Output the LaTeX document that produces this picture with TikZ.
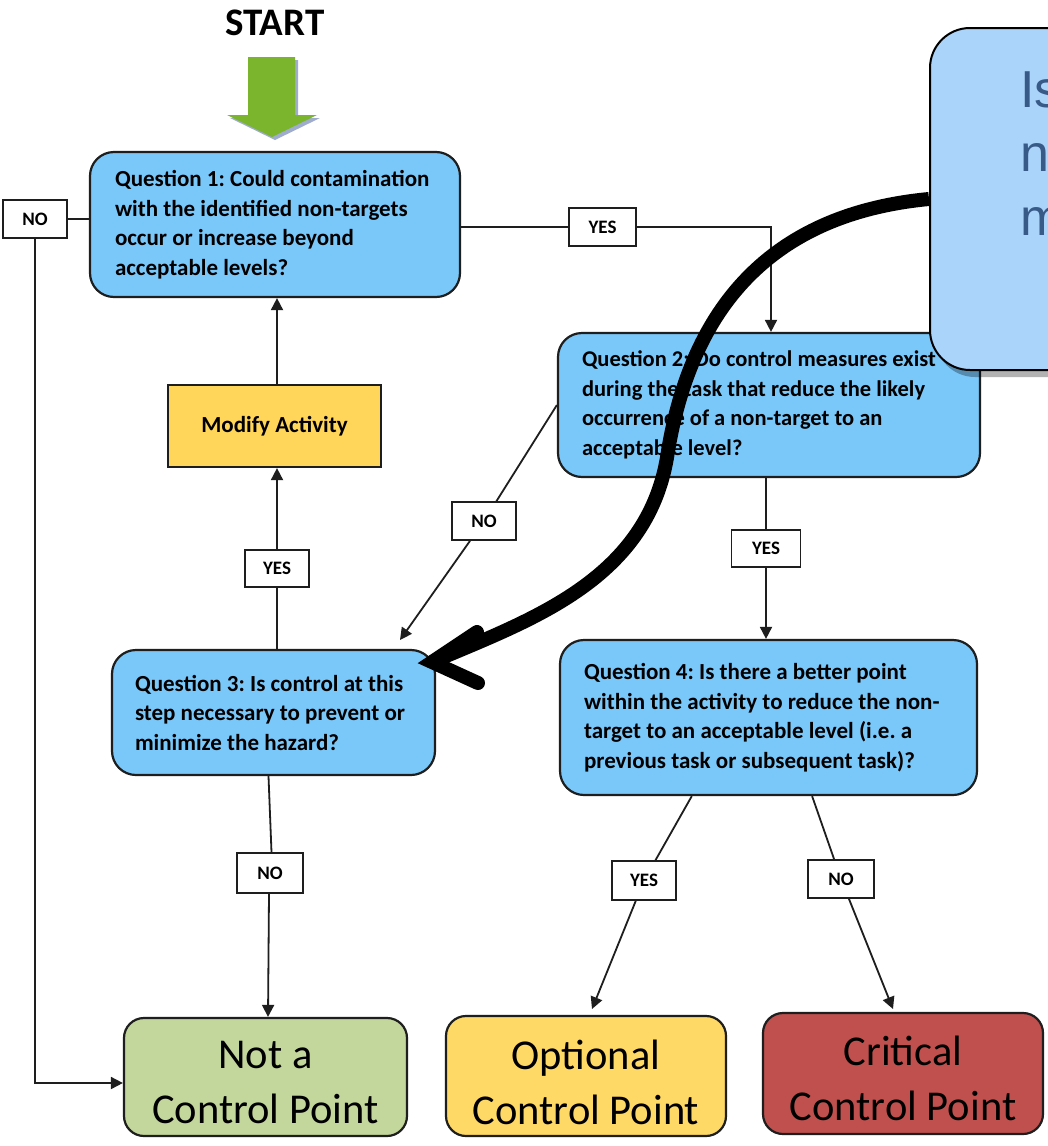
\documentclass[tikz,border=0pt]{standalone}
\usepackage{fontspec}
\setmainfont{Carlito}
\newfontfamily\calloutfont{Liberation Sans}
\usetikzlibrary{arrows.meta,shadows,calc}
\frenchspacing
% one unbreakable line of question text, with the font's own word spacing
\newcommand\qrow[1]{{\spaceskip=0pt\xspaceskip=0pt\mbox{#1}}}

\definecolor{qblue}{RGB}{122,200,250}
\definecolor{modfill}{RGB}{255,213,90}
\definecolor{notfill}{RGB}{195,214,155}
\definecolor{optfill}{RGB}{255,217,102}
\definecolor{critfill}{RGB}{192,80,77}
\definecolor{callfill}{RGB}{171,212,250}
\definecolor{calltext}{RGB}{56,90,135}
\definecolor{startgreen}{RGB}{122,181,45}
\definecolor{startshade}{RGB}{160,172,205}
\definecolor{edge}{RGB}{30,30,30}

\pgfdeclarelayer{front}
\pgfsetlayers{main,front}

\tikzset{
  question/.style={draw=edge, line width=2.2pt, fill=qblue, rounded corners=24pt,
    inner sep=0pt, align=left, font=\bfseries\fontsize{23}{29.5}\selectfont},
  outcome/.style={draw=edge, line width=2.2pt, rounded corners=20pt, inner sep=0pt},
  outcometext/.style={align=center, inner sep=0pt, font=\fontsize{42.5}{55}\selectfont},
  tag/.style={draw=edge, line width=1.6pt, fill=white, inner sep=0pt,
    minimum height=38pt, font=\bfseries\fontsize{19}{21}\selectfont},
  link/.style={draw=edge, line width=1.8pt},
  arr/.style={link, -{Triangle[length=12pt,width=12pt]}},
  bigcurve/.style={line width=14pt, draw=black}
}

\begin{document}
\frenchspacing
\begin{tikzpicture}[x=1pt,y=-1pt]
\useasboundingbox (0,0) rectangle (1048,1146);
\fill[white] (0,0) rectangle (1048,1146);

% start marker
\node[anchor=base, font=\bfseries\fontsize{39}{42}\selectfont] (start) at (275,35) {START};
\fill[startshade] (251,60) -- (298,60) -- (298,118) -- (320,118) -- (275,140) -- (230,118) -- (251,118) -- cycle;
\fill[startgreen] (248,57) -- (295,57) -- (295,115) -- (317,115) -- (272,137) -- (227,115) -- (248,115) -- cycle;

% questions
\node[question, minimum width=370pt, minimum height=145pt, text width=320pt] (q1) at (275,224.5)
  {\qrow{Question 1: Could contamination}\\\qrow{with the identified non-targets}\\
   \qrow{occur or increase beyond}\\\qrow{acceptable levels?}};
\node[question, minimum width=422pt, minimum height=144pt, text width=374pt,
  font=\bfseries\fontsize{22.5}{29.5}\selectfont] (q2) at (769,405)
  {\qrow{Question 2: Do control measures exist}\\\qrow{during the task that reduce the likely}\\
   \qrow{occurrence of a non-target to an}\\\qrow{acceptable level?}};
\node[question, minimum width=323pt, minimum height=125pt, text width=277pt] (q3) at (273.5,712.5)
  {\qrow{Question 3: Is control at this}\\\qrow{step necessary to prevent or}\\
   \qrow{minimize the hazard?}};
\node[question, minimum width=417pt, minimum height=155pt, text width=369pt] (q4) at (768.5,717.5)
  {\qrow{Question 4: Is there a better point}\\\qrow{within the activity to reduce the non-}\\
   \qrow{target to an acceptable level (i.e. a}\\\qrow{previous task or subsequent task)?}};

\node[draw=edge, line width=2.2pt, fill=modfill, minimum width=213pt, minimum height=82pt,
  font=\bfseries\fontsize{23}{28}\selectfont] (mod) at (274.5,426) {Modify Activity};

% outcomes
\node[outcome, fill=notfill, minimum width=283pt, minimum height=118pt] (notcp) at (265.5,1077) {};
\node[outcome, fill=optfill, minimum width=280pt, minimum height=120pt] (optcp) at (586,1076) {};
\node[outcome, fill=critfill, minimum width=280pt, minimum height=121pt] (critcp) at (903,1073.5) {};
\node[outcometext] (nottxt) at ([yshift=-6pt]notcp.center) {Not a\\Control Point};
\node[outcometext] (opttxt) at ([yshift=-6pt]optcp.center) {Optional\\Control Point};
\node[outcometext] (crittxt) at ([yshift=-5pt]critcp.center) {Critical\\Control Point};

% answer tags
\node[tag, minimum width=64pt] (no1) at (35,219) {NO};
\node[tag, minimum width=67pt] (yes1) at (602.5,227) {YES};
\node[tag, minimum width=64pt] (no2) at (484,521) {NO};
\node[tag, minimum width=69pt, minimum height=37pt] (yes2) at (766,548.5) {YES};
\node[tag, minimum width=64pt, minimum height=37pt] (yes3) at (277,568.5) {YES};
\node[tag, minimum width=66pt, minimum height=40pt] (no3) at (270,873) {NO};
\node[tag, minimum width=64pt, minimum height=39pt] (yes4) at (644,880.5) {YES};
\node[tag, minimum width=66pt] (no4) at (841,879) {NO};

% connector end points
\coordinate (q3in) at (400,640);
\coordinate (q4yes) at ($(q4.south west)!0.317!(q4.south east)$);
\coordinate (q4no) at ($(q4.south west)!0.604!(q4.south east)$);
\coordinate (optin) at (592,1009);
\coordinate (critin) at (893,1009);

% connectors
\draw[link] (q1.west |- no1) -- (no1.east);
\draw[arr] (no1.south) |- ([yshift=-6pt]notcp.west);
\draw[link] (q1.east |- yes1) -- (yes1.west);
\draw[arr] (yes1.east) -| ([xshift=2pt]q2.north);
\draw[arr] (mod.north -| yes3) -- (yes3 |- q1.south);
\draw[link] (yes3.south) -- (yes3.south |- q3.north);
\draw[arr] (yes3.north) -- (yes3.north |- mod.south);
\draw[link] (q2.west) -- (no2);
\draw[arr] (no2) -- (q3in);
\draw[link] (yes2.north |- q2.south) -- (yes2.north);
\draw[arr] (yes2.south) -- (yes2.south |- q4.north);
\draw[link] ([xshift=-1.5pt]no3.north |- q3.south) -- ([xshift=1.5pt]no3.north);
\draw[arr] ([xshift=-1pt]no3.south) -- ([xshift=-2pt]no3.south |- notcp.north);
\draw[link] (q4yes) -- (yes4);
\draw[arr] (yes4) -- (optin);
\draw[link] (q4no) -- (no4);
\draw[arr] (no4) -- (critin);

% callout on the top layer
\begin{pgfonlayer}{front}
\node[draw=black, line width=2pt, fill=callfill, rounded corners=40pt, minimum width=300pt,
  minimum height=342pt, drop shadow={shadow xshift=5pt, shadow yshift=-7pt, fill=black, opacity=0.3}]
  (callout) at (1080,199) {};
\node[anchor=north west, inner sep=0pt, align=left, text=calltext,
  font=\calloutfont\fontsize{52}{64}\selectfont] (calltxt) at (1020,72) {Is\\n\\m};
\end{pgfonlayer}

% curved pointer from the callout to question 3
\coordinate (tip) at (432,662);
\draw[bigcurve] (callout.west) .. controls (760,215) and (690,320) .. (668,451)
  .. controls (650,580) and (530,620) .. (tip);
\draw[bigcurve, line cap=round, line join=miter] (477,632) -- (tip) -- (478,683);
\end{tikzpicture}
\end{document}
